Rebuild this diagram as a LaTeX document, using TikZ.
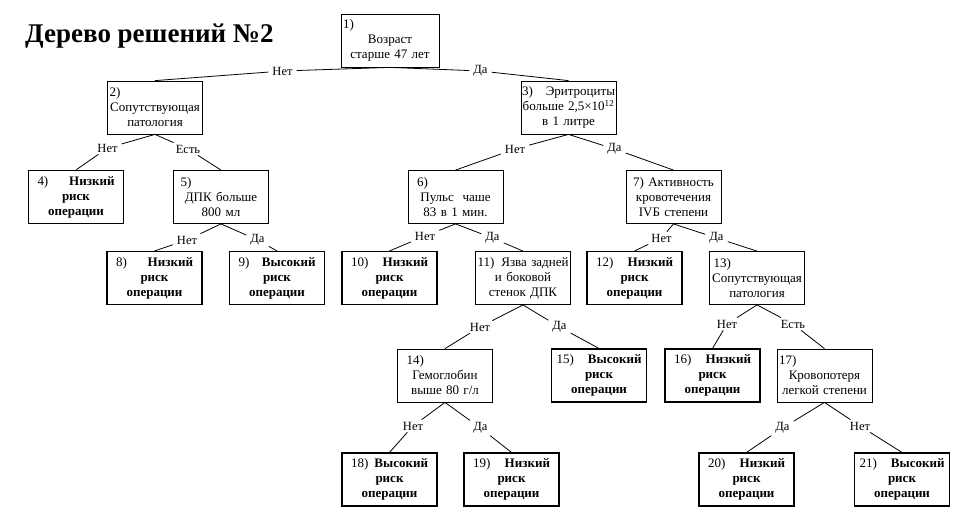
\documentclass[tikz,border=0pt]{standalone}
\usepackage{fontspec}
\setmainfont{Liberation Serif}
\begin{document}
\begin{tikzpicture}[x=1pt,y=-1pt,
  txt/.style={font=\fontsize{13}{15}\selectfont},
  dbox/.style={txt,draw,line width=0.8pt,minimum width=95pt,minimum height=53pt,
    inner xsep=2pt,inner ysep=0pt,text width=91pt,align=center},
  obox/.style={txt,draw,line width=1.1pt,minimum width=95pt,minimum height=53pt,
    inner xsep=9pt,inner ysep=0pt,text width=77pt,align=center},
  lbl/.style={font=\fontsize{12.5}{14}\selectfont,inner xsep=4pt,inner ysep=2pt},
  edge/.style={line width=0.8pt}]
\useasboundingbox (0,0) rectangle (975,530);
\node[anchor=west,font=\fontsize{27}{30}\selectfont\bfseries,inner sep=0pt] (title) at (25,36) {Дерево решений №2};

% decision boxes
\node[dbox,minimum width=98pt,text width=94pt] (n1) at (390,40.5) {1)\hfill\mbox{}\\Возраст\\старше 47 лет};
\node[dbox] (n2) at (155,107.5) {2)\hfill\mbox{}\\Сопутствующая\\патология};
\node[dbox,inner xsep=1pt,text width=93pt] (n3) at (568.5,107.5) {3)\hfill Эритроциты\\больше 2,5×10\textsuperscript{12}\\в 1 литре};
\node[dbox] (n5) at (221,197) {\hspace*{5pt}5)\hfill\mbox{}\\ДПК больше\\800 мл};
\node[dbox] (n6) at (455.5,197) {\hspace*{7pt}6)\hfill\mbox{}\\Пульс\ \ чаше\\83 в 1 мин.};
\node[dbox] (n7) at (673.5,197) {7) Активность\\кровотечения\\IVБ степени};
\node[dbox] (n11) at (523,278) {11)\hfill Язва задней\\и боковой\\стенок ДПК};
\node[dbox] (n13) at (757,278) {\hspace*{2pt}13)\hfill\mbox{}\\Сопутствующая\\патология};
\node[dbox] (n14) at (445,375.5) {\hspace*{7pt}14)\hfill\mbox{}\\Гемоглобин\\выше 80 г/л};
\node[dbox] (n17) at (824.5,375.5) {17)\hfill\mbox{}\\Кровопотеря\\легкой степени};

% outcome boxes
\node[obox] (n4) at (76,197) {4)\hfill\textbf{Низкий}\\\textbf{риск}\\\textbf{операции}};
\node[obox] (n8) at (154.5,278) {8)\hfill\textbf{Низкий}\\\textbf{риск}\\\textbf{операции}};
\node[obox] (n9) at (277,278) {9)\hfill\textbf{Высокий}\\\textbf{риск}\\\textbf{операции}};
\node[obox] (n10) at (389.5,278) {10)\hfill\textbf{Низкий}\\\textbf{риск}\\\textbf{операции}};
\node[obox] (n12) at (634.5,278) {12)\hfill\textbf{Низкий}\\\textbf{риск}\\\textbf{операции}};
\node[obox,inner xsep=5pt,text width=85pt] (n15) at (599,375.5) {15)\hfill\textbf{Высокий}\\\textbf{риск}\\\textbf{операции}};
\node[obox] (n16) at (712.5,375.5) {16)\hfill\textbf{Низкий}\\\textbf{риск}\\\textbf{операции}};
\node[obox] (n18) at (389.5,479.5) {18)\hfill\textbf{Высокий}\\\textbf{риск}\\\textbf{операции}};
\node[obox] (n19) at (511.5,479.5) {19)\hfill\textbf{Низкий}\\\textbf{риск}\\\textbf{операции}};
\node[obox] (n20) at (746.5,479.5) {20)\hfill\textbf{Низкий}\\\textbf{риск}\\\textbf{операции}};
\node[obox,inner xsep=5pt,text width=85pt] (n21) at (902,479.5) {21)\hfill\textbf{Высокий}\\\textbf{риск}\\\textbf{операции}};

% labels
\node[lbl] (l12) at (282.5,71) {Нет};
\node[lbl] (l13) at (480.5,71) {Да};
\node[lbl] (l24) at (107.5,148) {Нет};
\node[lbl] (l25) at (188,149) {Есть};
\node[lbl] (l36) at (515,149) {Нет};
\node[lbl] (l37) at (614.5,149) {Да};
\node[lbl] (l58) at (187,240) {Нет};
\node[lbl] (l59) at (257.5,240) {Да};
\node[lbl] (l610) at (425,236) {Нет};
\node[lbl] (l611) at (492.5,238) {Да};
\node[lbl] (l712) at (661.5,238) {Нет};
\node[lbl] (l713) at (716.5,238) {Да};
\node[lbl] (l1114) at (480,327) {Нет};
\node[lbl] (l1115) at (559.5,327) {Да};
\node[lbl] (l1316) at (727,324) {Нет};
\node[lbl] (l1317) at (793,324) {Есть};
\node[lbl] (l1418) at (413,426) {Нет};
\node[lbl] (l1419) at (480.5,428) {Да};
\node[lbl] (l1720) at (782.5,428) {Да};
\node[lbl] (l1721) at (860,426) {Нет};

% connectors
\foreach \p/\l/\c in {n1/l12/n2, n1/l13/n3, n2/l24/n4, n2/l25/n5, n3/l36/n6, n3/l37/n7,
  n5/l58/n8, n5/l59/n9, n6/l610/n10, n6/l611/n11, n7/l712/n12, n7/l713/n13,
  n11/l1114/n14, n11/l1115/n15, n13/l1316/n16, n13/l1317/n17,
  n14/l1418/n18, n14/l1419/n19, n17/l1720/n20, n17/l1721/n21}
  {\draw[edge] (\p.south) -- (\l) -- (\c.north);}
\end{tikzpicture}
\end{document}
